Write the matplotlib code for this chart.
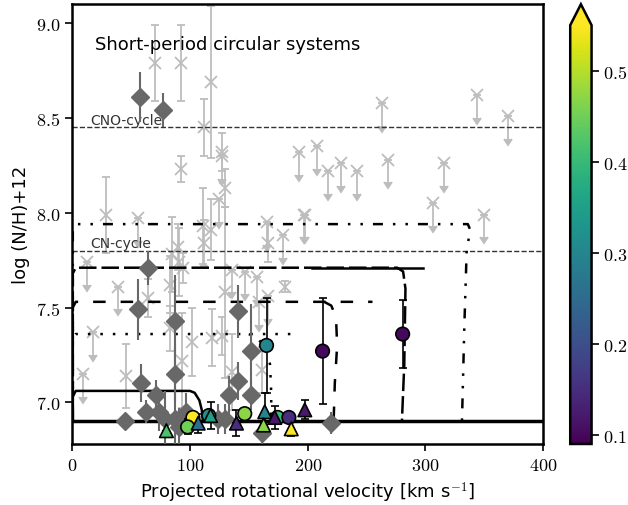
import numpy as np
import matplotlib.pyplot as plt

plt.rcParams['mathtext.fontset'] = 'cm'
plt.rcParams['font.family'] = ['DejaVu Sans']

# ---- data ----
# gray crosses with symmetric error bars: vsini, log(N/H)+12, error
gx_v = [70, 92, 117.6, 111.5, 92, 28.5, 127, 110.8, 117.7, 89.6, 91, 93.8, 84.5,
        129.5, 111.5, 64, 83, 101.5, 118.5, 127, 93, 83, 46, 180.5, 166, 135.5, 161, 129.6]
gx_y = [8.79, 8.79, 8.69, 8.45, 8.23, 7.99, 8.32, 7.93, 7.91, 7.82, 7.74, 7.71, 7.78,
        8.13, 7.84, 7.55, 7.62, 7.32, 7.34, 7.35, 7.22, 7.39, 7.14, 7.61, 7.84, 7.16, 7.17, 7.58]
gx_e = [0.2, 0.2, 0.4, 0.15, 0.07, 0.2, 0.1, 0.2, 0.16, 0.12, 0.18, 0.08, 0.2,
        0.1, 0.12, 0.1, 0.15, 0.18, 0.15, 0.1, 0.25, 0.12, 0.17, 0.03, 0.1, 0.2, 0.12, 0.45]

# gray crosses that are upper limits
ul_v = [262.7, 344, 369.7, 193, 207.6, 217, 228.6, 242, 268.6, 315.5, 196.6, 306, 350,
        12.4, 38.6, 17.6, 9, 55.7, 125, 136, 147, 157, 165, 179, 197.5, 159, 166, 127]
ul_y = [8.58, 8.62, 8.51, 8.32, 8.35, 8.22, 8.26, 8.22, 8.28, 8.26, 7.99, 8.05, 7.99,
        7.74, 7.61, 7.37, 7.15, 7.97, 8.07, 7.70, 7.69, 7.66, 7.95, 7.88, 7.99, 7.53, 7.56, 8.30]

# dark gray diamonds
dm_v = [57.4, 76.8, 64, 55.6, 87, 58, 87, 71, 63, 44.6, 140.6, 151.5, 140.6, 133,
        151.5, 74, 79, 87, 91, 97, 123.5, 129.5, 161, 220]
dm_y = [8.61, 8.54, 7.71, 7.49, 7.43, 7.10, 7.15, 7.04, 6.95, 6.90, 7.48, 7.27, 7.11, 7.04,
        7.04, 6.95, 6.91, 6.91, 6.87, 6.95, 6.91, 6.91, 6.84, 6.89]
dm_e = [0.13, 0.09, 0.09, 0.16, 0.24, 0.1, 0.15, 0.08, 0.06, 0.0, 0.14, 0.25, 0.1, 0.1,
        0.08, 0.1, 0.15, 0.25, 0.1, 0.1, 0.08, 0.08, 0.06, 0.06]

# coloured circles
ci_v = [212.6, 280.6, 165, 102.5, 98, 146.5, 116, 174.5, 184]
ci_y = [7.27, 7.36, 7.30, 6.92, 6.87, 6.94, 6.93, 6.92, 6.92]
ci_e = [0.28, 0.18, 0.25, 0.0, 0.04, 0.0, 0.0, 0.0, 0.0]
ci_c = [0.10, 0.10, 0.30, 0.55, 0.45, 0.47, 0.32, 0.40, 0.15]

# coloured triangles
tr_v = [80, 107, 117.5, 139.5, 163.5, 162.5, 172, 186, 197.5]
tr_y = [6.85, 6.89, 6.93, 6.89, 6.95, 6.88, 6.92, 6.86, 6.96]
tr_e = [0.0, 0.05, 0.07, 0.07, 0.1, 0.0, 0.06, 0.04, 0.05]
tr_c = [0.42, 0.25, 0.35, 0.15, 0.30, 0.47, 0.12, 0.55, 0.12]

# model tracks
trA_v = [0.5, 0.5, 3, 100, 104, 108, 110, 111]
trA_y = [6.9, 7.03, 7.06, 7.06, 7.05, 7.01, 6.96, 6.9]
trB_v = [0.5, 0.5, 3, 276, 281, 283, 282, 280]
trB_y = [6.9, 7.68, 7.71, 7.71, 7.69, 7.6, 7.2, 6.9]
trC_v = [204, 298]
trC_y = [7.71, 7.71]
trD_v = [0.5, 0.5, 3, 255]
trD_y = [6.9, 7.5, 7.53, 7.53]
trD2_v = [214, 220, 224, 225, 223, 222]
trD2_y = [7.53, 7.51, 7.45, 7.3, 7.1, 6.9]
trE_v = [0.5, 0.5, 3, 190]
trE_y = [6.9, 7.33, 7.36, 7.36]
trE2_v = [150, 157, 164, 168, 169, 169]
trE2_y = [7.36, 7.34, 7.29, 7.2, 7.05, 6.9]
trF_v = [0.5, 0.5, 3, 336, 338, 335, 333, 331]
trF_y = [6.9, 7.91, 7.94, 7.94, 7.91, 7.8, 7.4, 6.9]

cno_level = 8.45
cn_level = 7.8
base_level = 6.9

xticks = [0, 100, 200, 300, 400]
yticks = [7.0, 7.5, 8.0, 8.5, 9.0]
cticks = [0.1, 0.2, 0.3, 0.4, 0.5]

# ---- figure ----
fig = plt.figure(figsize=(6.28, 5.06), dpi=100)
ax = fig.add_axes([0.115, 0.1206, 0.75, 0.869])
cax = fig.add_axes([0.908, 0.1206, 0.034, 0.869])

light = '#bdbdbd'
dark = '#686868'

ax.errorbar(gx_v, gx_y, yerr=gx_e, fmt='x', color=light, ms=8, mew=1.3,
            elinewidth=1.3, capsize=3, capthick=1.3, zorder=1)
ax.errorbar(ul_v, ul_y, yerr=0.12, uplims=True, fmt='x', color=light, ms=8,
            mew=1.3, elinewidth=1.3, capsize=3, zorder=1)

ax.axhline(cno_level, color='#333333', ls='--', lw=1.0, zorder=2)
ax.axhline(cn_level, color='#333333', ls='--', lw=1.0, zorder=2)
ax.axhline(base_level, color='black', ls='-', lw=2.5, zorder=2)
ax.text(15, cno_level + 0.02, 'CNO-cycle', color='#333333', fontsize=10, zorder=2)
ax.text(15, cn_level + 0.02, 'CN-cycle', color='#333333', fontsize=10, zorder=2)

lw = 1.8
ax.plot(trA_v, trA_y, color='black', lw=lw, zorder=3)
ax.plot(trB_v, trB_y, color='black', lw=lw, ls=(0, (7, 2)), zorder=3)
ax.plot(trC_v, trC_y, color='black', lw=lw, zorder=3)
ax.plot(trD_v, trD_y, color='black', lw=lw, ls=(0, (5, 6)), zorder=3)
ax.plot(trD2_v, trD2_y, color='black', lw=lw, ls=(0, (5, 6)), zorder=3)
ax.plot(trE_v, trE_y, color='black', lw=lw, ls=(0, (1, 4)), zorder=3)
ax.plot(trE2_v, trE2_y, color='black', lw=lw, ls=(0, (1, 4)), zorder=3)
ax.plot(trF_v, trF_y, color='black', lw=lw, ls=(0, (4, 4, 1, 4, 1, 4)), zorder=3)

ax.errorbar(dm_v, dm_y, yerr=dm_e, fmt='D', color=dark, ms=9, mec=dark,
            elinewidth=1.5, capsize=0, zorder=4)

cmap = plt.get_cmap('viridis')
vmin, vmax = 0.09, 0.55
ax.errorbar(ci_v, ci_y, yerr=ci_e, fmt='none', ecolor='black', elinewidth=1.2,
            capsize=3, capthick=1.2, zorder=5)
ax.errorbar(tr_v, tr_y, yerr=tr_e, fmt='none', ecolor='black', elinewidth=1.2,
            capsize=3, capthick=1.2, zorder=5)
sc = ax.scatter(ci_v, ci_y, c=ci_c, cmap=cmap, vmin=vmin, vmax=vmax, marker='o',
                s=95, edgecolors='black', linewidths=1.2, zorder=6)
ax.scatter(tr_v, tr_y, c=tr_c, cmap=cmap, vmin=vmin, vmax=vmax, marker='^',
           s=95, edgecolors='black', linewidths=1.2, zorder=6)

ax.text(0.049, 0.909, 'Short-period circular systems', transform=ax.transAxes,
        fontsize=13, va='center', ha='left')

ax.set_xlim(0, 400)
ax.set_ylim(6.78, 9.1)
ax.set_xticks(xticks)
ax.set_xticklabels([f'${t}$' for t in xticks], fontsize=13)
ax.set_yticks(yticks)
ax.set_yticklabels([f'${t:.1f}$' for t in yticks], fontsize=13)
ax.tick_params(direction='out', length=5, width=1.2)
for s in ax.spines.values():
    s.set_linewidth(1.8)
ax.set_xlabel(r'Projected rotational velocity [km s$^{-1}$]', fontsize=13)
ax.set_ylabel('log (N/H)+12', fontsize=13)

cb = fig.colorbar(sc, cax=cax, extend='max')
cb.set_ticks(cticks)
cb.set_ticklabels([f'${t}$' for t in cticks])
cb.ax.tick_params(labelsize=13, length=5, width=1.2)
cb.outline.set_linewidth(1.8)

fig.savefig('out.png', dpi=100)
